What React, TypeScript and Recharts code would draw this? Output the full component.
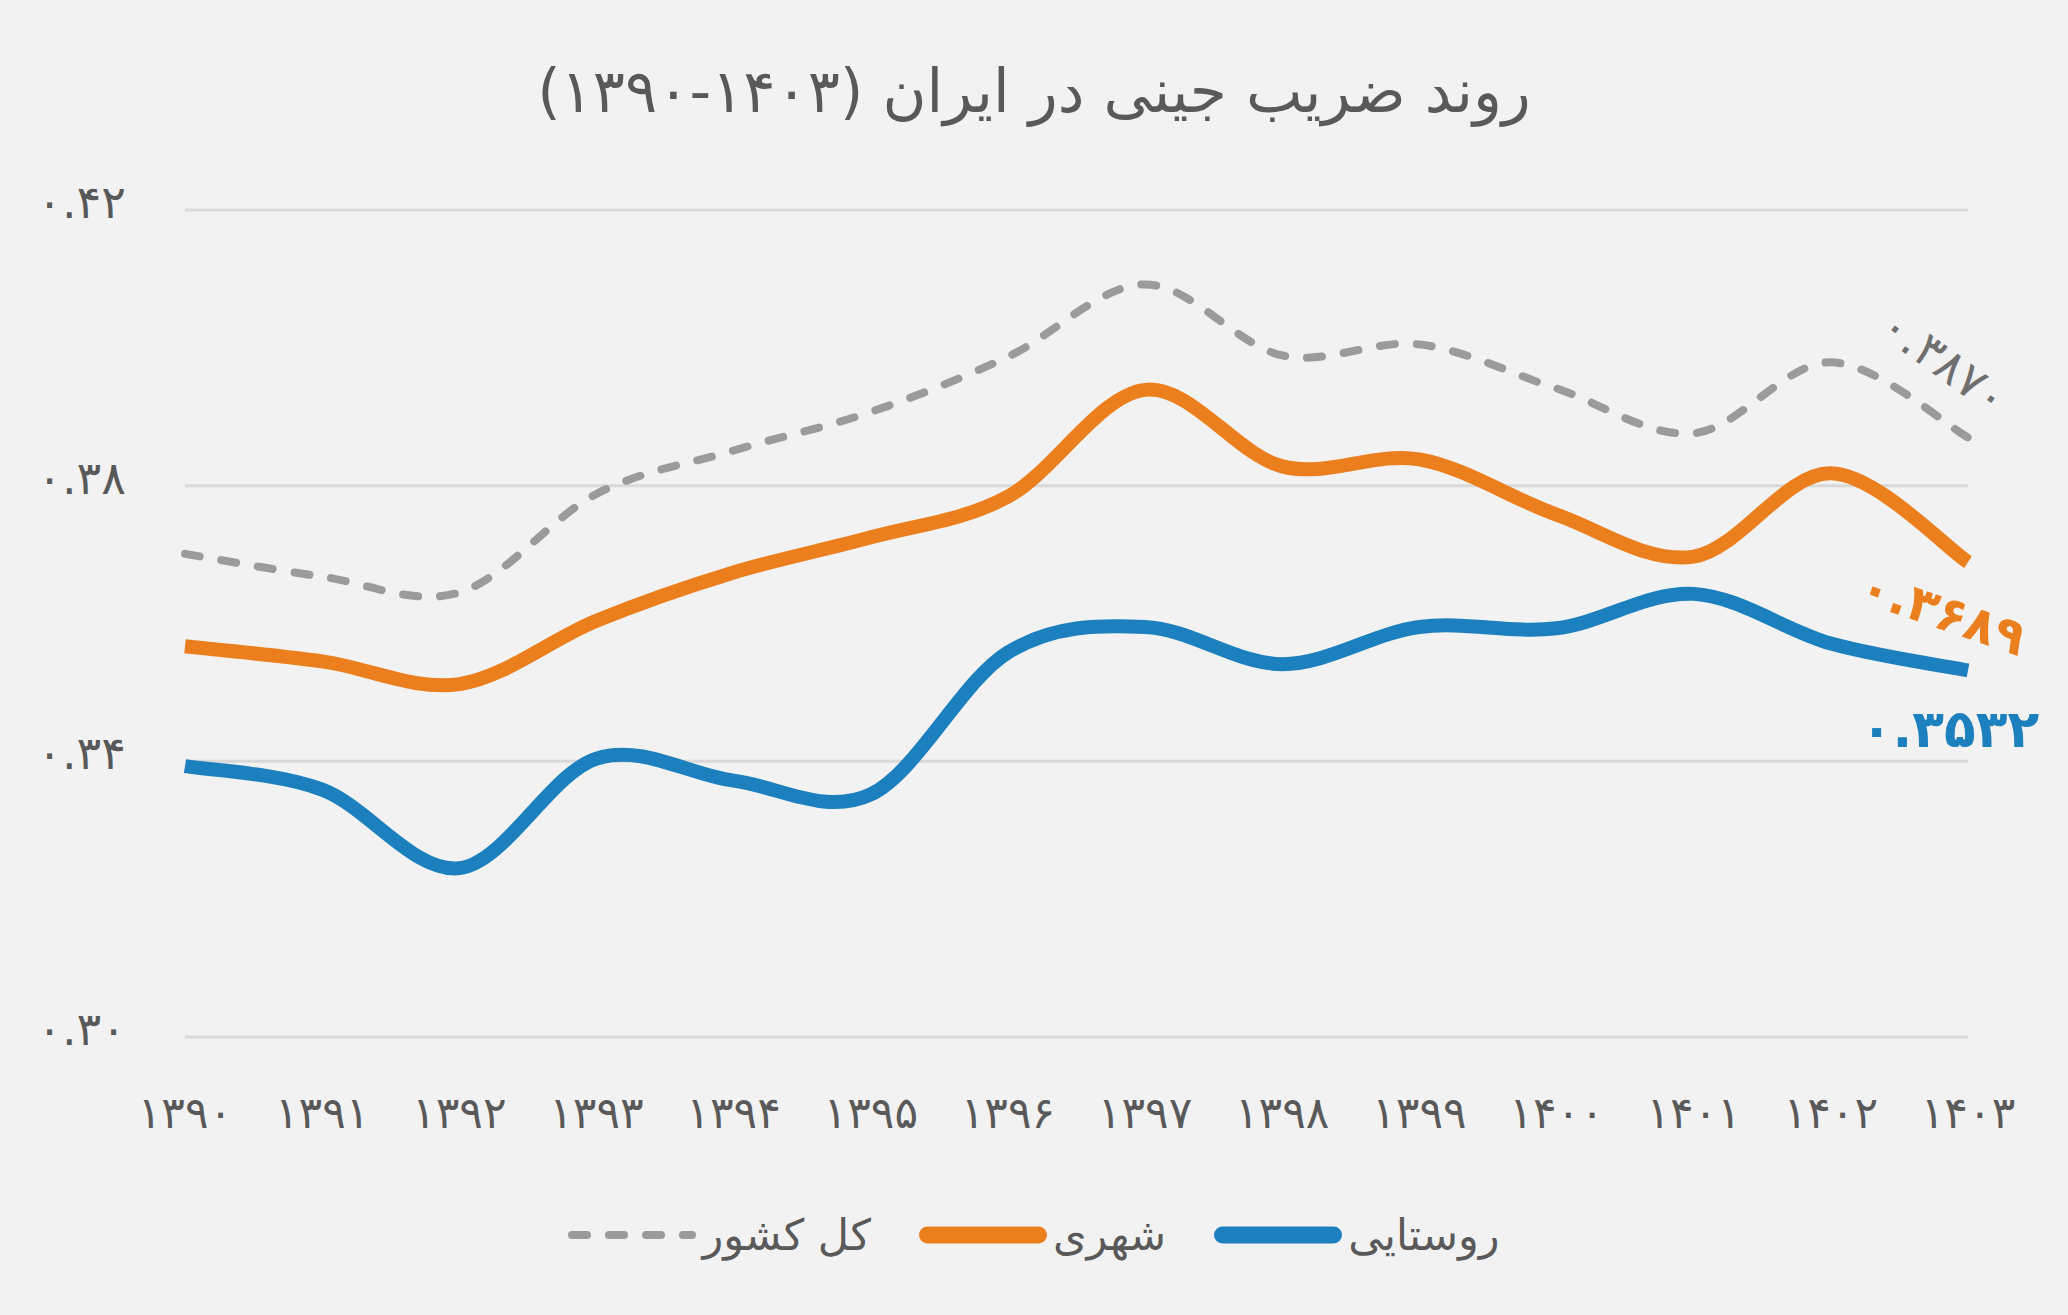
import { LineChart, Line, XAxis, YAxis, CartesianGrid, Legend, LabelList } from "recharts";

const years = ["۱۳۹۰", "۱۳۹۱", "۱۳۹۲", "۱۳۹۳", "۱۳۹۴", "۱۳۹۵", "۱۳۹۶", "۱۳۹۷", "۱۳۹۸", "۱۳۹۹", "۱۴۰۰", "۱۴۰۱", "۱۴۰۲", "۱۴۰۳"];
const total = [0.3701, 0.3668, 0.3645, 0.3788, 0.3851, 0.3907, 0.3987, 0.4092, 0.3989, 0.4005, 0.3941, 0.3876, 0.3979, 0.387];
const urban = [0.3567, 0.3545, 0.3512, 0.3604, 0.3674, 0.3725, 0.3784, 0.3939, 0.3828, 0.3838, 0.3758, 0.3697, 0.3818, 0.3689];
const rural = [0.3393, 0.3359, 0.3245, 0.3404, 0.3372, 0.3352, 0.3558, 0.3595, 0.3541, 0.3595, 0.3593, 0.3643, 0.3571, 0.3532];

const yTicks = [0.3, 0.34, 0.38, 0.42];
const yTickLabels = ["۰.۳۰", "۰.۳۴", "۰.۳۸", "۰.۴۲"];

const seriesNames = ["کل کشور", "شهری", "روستایی"];
const endLabels = ["۰.۳۸۷۰", "۰.۳۶۸۹", "۰.۳۵۳۲"];

// the year range is isolated LTR so it reads 1390 on the left, as in the source
const TITLE = "روند ضریب جینی در ایران (\u2066۱۳۹۰-۱۴۰۳\u2069)";
const FONT = "'DejaVu Sans', sans-serif";
const TEXT = "#595959";
const GRAY = "#9b9b9b";
const ORANGE = "#ec7f1d";
const BLUE = "#1c80be";

const data = years.map((year, i) => ({
  year,
  total: total[i],
  urban: urban[i],
  rural: rural[i],
}));

// excel-style smoothing (catmull-rom through every point)
function excelSmooth(context: any) {
  let pts: [number, number][] = [];
  return {
    areaStart() {},
    areaEnd() {},
    lineStart() {
      pts = [];
    },
    point(x: number, y: number) {
      pts.push([+x, +y]);
    },
    lineEnd() {
      if (!pts.length) return;
      context.moveTo(pts[0][0], pts[0][1]);
      for (let i = 0; i < pts.length - 1; i++) {
        const p0 = pts[i - 1] || pts[i];
        const p1 = pts[i];
        const p2 = pts[i + 1];
        const p3 = pts[i + 2] || p2;
        context.bezierCurveTo(
          p1[0] + (p2[0] - p0[0]) / 6,
          p1[1] + (p2[1] - p0[1]) / 6,
          p2[0] - (p3[0] - p1[0]) / 6,
          p2[1] - (p3[1] - p1[1]) / 6,
          p2[0],
          p2[1]
        );
      }
    },
  };
}

function endLabel(text: string, color: string, dx: number, dy: number, angle: number, size: number, weight: number, spacing: number) {
  return (p: any) => {
    if (p.index !== years.length - 1) return null;
    const x = p.x + dx;
    const y = p.y + dy;
    return (
      <text
        x={x}
        y={y}
        fill={color}
        fontSize={size}
        fontWeight={weight}
        fontFamily={FONT}
        letterSpacing={spacing}
        textAnchor="middle"
        dominantBaseline="central"
        transform={`rotate(${angle} ${x} ${y})`}
      >
        {text}
      </text>
    );
  };
}

function YTick(p: any) {
  const idx = yTicks.indexOf(p.payload.value);
  return (
    <text
      x={126}
      y={p.y - 8}
      fill={TEXT}
      fontSize={46}
      letterSpacing={3}
      fontFamily={FONT}
      textAnchor="end"
      dominantBaseline="central"
    >
      {yTickLabels[idx] ?? ""}
    </text>
  );
}

function XTick(p: any) {
  return (
    <text
      x={p.x}
      y={1112}
      fill={TEXT}
      fontSize={44}
      letterSpacing={2}
      fontFamily={FONT}
      textAnchor="middle"
      dominantBaseline="central"
    >
      {p.payload.value}
    </text>
  );
}

const swatches = [
  { color: GRAY, width: 8, dash: "15 22" },
  { color: ORANGE, width: 17, dash: undefined },
  { color: BLUE, width: 17, dash: undefined },
];

function LegendBox() {
  return (
    <div style={{ display: "flex", justifyContent: "center", alignItems: "center", height: 60, gap: 48, fontFamily: FONT }}>
      {seriesNames.map((name, i) => (
        <div key={name} style={{ display: "flex", alignItems: "center", gap: 6 }}>
          <svg width={128} height={20}>
            <line
              x1={swatches[i].width / 2}
              y1={10}
              x2={128 - swatches[i].width / 2}
              y2={10}
              stroke={swatches[i].color}
              strokeWidth={swatches[i].width}
              strokeLinecap="round"
              strokeDasharray={swatches[i].dash}
            />
          </svg>
          <span style={{ fontSize: 43, color: TEXT, direction: "rtl", lineHeight: "60px" }}>{name}</span>
        </div>
      ))}
    </div>
  );
}

export default function App() {
  return (
    <div style={{ position: "relative", width: 2068, height: 1315, background: "#f2f2f2", overflow: "hidden" }}>
      <style>{"body{margin:0;background:#f2f2f2}"}</style>
      <div
        style={{
          position: "absolute",
          top: 58,
          left: 0,
          width: 2068,
          textAlign: "center",
          fontFamily: FONT,
          fontSize: 60,
          lineHeight: "66px",
          color: TEXT,
          direction: "rtl",
        }}
      >
        {TITLE}
      </div>
      <LineChart width={2068} height={1315} data={data} margin={{ top: 210, right: 100, left: 35, bottom: 128 }}>
        <CartesianGrid vertical={false} stroke="#d9d9d9" strokeWidth={3} />
        <XAxis dataKey="year" axisLine={false} tickLine={false} tickSize={0} height={90} tick={XTick} interval={0} />
        <YAxis
          domain={[0.3, 0.42]}
          ticks={yTicks}
          axisLine={false}
          tickLine={false}
          width={150}
          tick={YTick}
          allowDataOverflow
        />
        <Legend
          verticalAlign="bottom"
          height={60}
          content={() => <LegendBox />}
          wrapperStyle={{ top: 1205, bottom: "auto", left: 0, width: 2068, height: 60 }}
        />
        <Line
          dataKey="total"
          name={seriesNames[0]}
          type={excelSmooth as any}
          stroke={GRAY}
          strokeWidth={8}
          strokeDasharray="15 22"
          strokeLinecap="round"
          dot={false}
          activeDot={false}
          isAnimationActive={false}
        >
          <LabelList dataKey="total" content={endLabel(endLabels[0], "#6f6f6f", -23, -76, 36, 48, 400, 6)} />
        </Line>
        <Line
          dataKey="urban"
          name={seriesNames[1]}
          type={excelSmooth as any}
          stroke={ORANGE}
          strokeWidth={14}
          dot={false}
          activeDot={false}
          isAnimationActive={false}
        >
          <LabelList dataKey="urban" content={endLabel(endLabels[1], ORANGE, -25, 50, 19, 50, 700, 1)} />
        </Line>
        <Line
          dataKey="rural"
          name={seriesNames[2]}
          type={excelSmooth as any}
          stroke={BLUE}
          strokeWidth={14}
          dot={false}
          activeDot={false}
          isAnimationActive={false}
        >
          <LabelList dataKey="rural" content={endLabel(endLabels[2], BLUE, -18, 59, 0, 52, 700, 2)} />
        </Line>
      </LineChart>
    </div>
  );
}
